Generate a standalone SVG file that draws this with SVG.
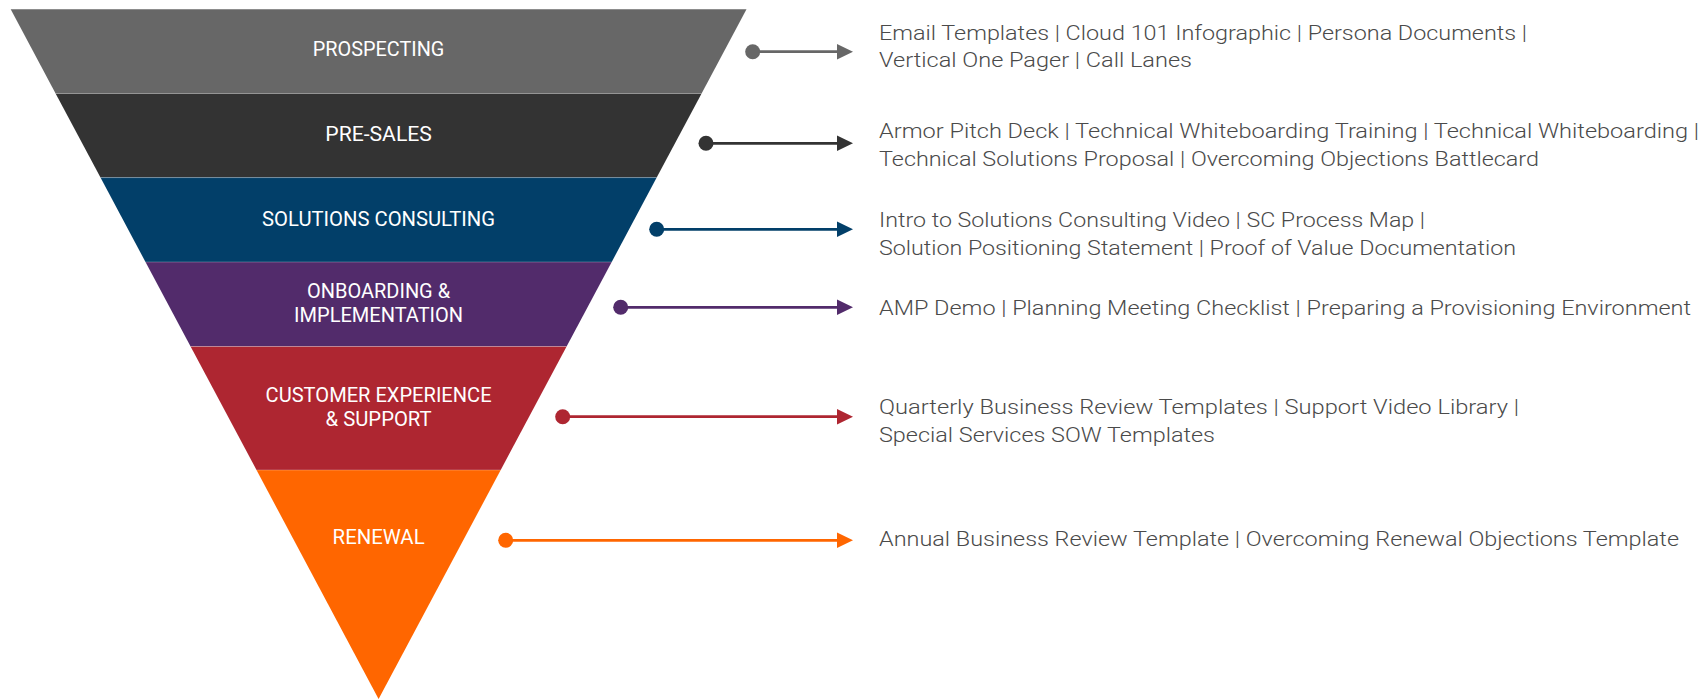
<svg xmlns="http://www.w3.org/2000/svg" xmlns:xlink="http://www.w3.org/1999/xlink" width="1704" height="700" viewBox="0 0 1704 700">
  <style>
    .band-label { font-family: Roboto, "Liberation Sans", sans-serif; font-size: 20px; font-weight: 400; fill: #ffffff; text-anchor: middle; }
    .resource { font-family: Roboto, "Liberation Sans", sans-serif; font-size: 21px; font-weight: 300; fill: #4a4a4a; }
    .seam { stroke: #ffffff; stroke-opacity: 0.25; stroke-width: 1; }
    .c-gray { fill: #676767; stroke: #676767; }
    .c-dark { fill: #333333; stroke: #333333; }
    .c-blue { fill: #023f69; stroke: #023f69; }
    .c-purple { fill: #522b6b; stroke: #522b6b; }
    .c-red { fill: #ae2631; stroke: #ae2631; }
    .c-orange { fill: #ff6600; stroke: #ff6600; }
    .link line { stroke-width: 2.8; }
    .link circle, .link use { stroke: none; }
  </style>
  <defs>
    <path id="head" d="M0,-7.7 L16,0 L0,7.7 Z"/>
  </defs>

  <rect width="1704" height="700" fill="#ffffff"/>

  <!-- funnel stages, top to bottom -->
  <g id="stage-prospecting">
    <polygon points="10.7,9.3 746.5,9.3 701.6,93.5 55.6,93.5" fill="#676767"/>
    <text class="band-label" x="378.6" y="56.3" textLength="131.5" lengthAdjust="spacingAndGlyphs">PROSPECTING</text>
  </g>
  <g id="stage-pre-sales">
    <polygon points="55.6,93.5 701.6,93.5 656.7,177.6 100.5,177.6" fill="#333333"/>
    <text class="band-label" x="378.6" y="140.5" textLength="106.6" lengthAdjust="spacingAndGlyphs">PRE-SALES</text>
  </g>
  <g id="stage-solutions-consulting">
    <polygon points="100.5,177.6 656.7,177.6 611.7,262 145.5,262" fill="#023f69"/>
    <text class="band-label" x="378.6" y="225.7" textLength="233" lengthAdjust="spacingAndGlyphs">SOLUTIONS CONSULTING</text>
  </g>
  <g id="stage-onboarding">
    <polygon points="145.5,262 611.7,262 566.6,346.5 190.6,346.5" fill="#522b6b"/>
    <text class="band-label" x="378.6" y="298.3" textLength="143" lengthAdjust="spacingAndGlyphs">ONBOARDING &amp;</text>
    <text class="band-label" x="378.6" y="321.7" textLength="169" lengthAdjust="spacingAndGlyphs">IMPLEMENTATION</text>
  </g>
  <g id="stage-customer-experience">
    <polygon points="190.6,346.5 566.6,346.5 500.7,470 256.5,470" fill="#ae2631"/>
    <text class="band-label" x="378.6" y="401.7" textLength="226" lengthAdjust="spacingAndGlyphs">CUSTOMER EXPERIENCE</text>
    <text class="band-label" x="378.6" y="425.7" textLength="106" lengthAdjust="spacingAndGlyphs">&amp; SUPPORT</text>
  </g>
  <g id="stage-renewal">
    <polygon points="256.5,470 500.7,470 378.6,699" fill="#ff6600"/>
    <text class="band-label" x="378.6" y="544.3" textLength="92" lengthAdjust="spacingAndGlyphs">RENEWAL</text>
  </g>

  <!-- faint seams between stages -->
  <g id="seams">
    <line class="seam" x1="55.6" y1="93.5" x2="701.6" y2="93.5"/>
    <line class="seam" x1="100.5" y1="177.6" x2="656.7" y2="177.6"/>
    <line class="seam" x1="145.5" y1="262" x2="611.7" y2="262"/>
    <line class="seam" x1="190.6" y1="346.5" x2="566.6" y2="346.5"/>
    <line class="seam" x1="256.5" y1="470" x2="500.7" y2="470"/>
  </g>

  <!-- connectors: dot on the funnel side, arrowhead toward the resource list -->
  <g id="connectors">
    <g class="link c-gray">
      <line x1="752.7" y1="51.7" x2="838" y2="51.7"/>
      <circle cx="752.7" cy="51.7" r="7.5"/>
      <use xlink:href="#head" x="837" y="51.7"/>
    </g>
    <g class="link c-dark">
      <line x1="706" y1="143.3" x2="838" y2="143.3"/>
      <circle cx="706" cy="143.3" r="7.5"/>
      <use xlink:href="#head" x="837" y="143.3"/>
    </g>
    <g class="link c-blue">
      <line x1="656.7" y1="229.3" x2="838" y2="229.3"/>
      <circle cx="656.7" cy="229.3" r="7.5"/>
      <use xlink:href="#head" x="837" y="229.3"/>
    </g>
    <g class="link c-purple">
      <line x1="620.7" y1="307.3" x2="838" y2="307.3"/>
      <circle cx="620.7" cy="307.3" r="7.5"/>
      <use xlink:href="#head" x="837" y="307.3"/>
    </g>
    <g class="link c-red">
      <line x1="562.7" y1="416.7" x2="838" y2="416.7"/>
      <circle cx="562.7" cy="416.7" r="7.5"/>
      <use xlink:href="#head" x="837" y="416.7"/>
    </g>
    <g class="link c-orange">
      <line x1="505.7" y1="540.3" x2="838" y2="540.3"/>
      <circle cx="505.7" cy="540.3" r="7.5"/>
      <use xlink:href="#head" x="837" y="540.3"/>
    </g>
  </g>

  <!-- resource lists per stage -->
  <g id="resources-prospecting">
    <text class="resource" x="879" y="39.5" textLength="648" lengthAdjust="spacingAndGlyphs">Email Templates | Cloud 101 Infographic | Persona Documents |</text>
    <text class="resource" x="879" y="67" textLength="313" lengthAdjust="spacingAndGlyphs">Vertical One Pager | Call Lanes</text>
  </g>
  <g id="resources-pre-sales">
    <text class="resource" x="879" y="137.7" textLength="820" lengthAdjust="spacingAndGlyphs">Armor Pitch Deck | Technical Whiteboarding Training | Technical Whiteboarding |</text>
    <text class="resource" x="879" y="166" textLength="660" lengthAdjust="spacingAndGlyphs">Technical Solutions Proposal | Overcoming Objections Battlecard</text>
  </g>
  <g id="resources-solutions-consulting">
    <text class="resource" x="879" y="226.7" textLength="546" lengthAdjust="spacingAndGlyphs">Intro to Solutions Consulting Video | SC Process Map |</text>
    <text class="resource" x="879" y="255" textLength="637" lengthAdjust="spacingAndGlyphs">Solution Positioning Statement | Proof of Value Documentation</text>
  </g>
  <g id="resources-onboarding">
    <text class="resource" x="879" y="315" textLength="812" lengthAdjust="spacingAndGlyphs">AMP Demo | Planning Meeting Checklist | Preparing a Provisioning Environment</text>
  </g>
  <g id="resources-customer-experience">
    <text class="resource" x="879" y="414.3" textLength="640" lengthAdjust="spacingAndGlyphs">Quarterly Business Review Templates | Support Video Library |</text>
    <text class="resource" x="879" y="441.7" textLength="336" lengthAdjust="spacingAndGlyphs">Special Services SOW Templates</text>
  </g>
  <g id="resources-renewal">
    <text class="resource" x="879" y="546" textLength="800" lengthAdjust="spacingAndGlyphs">Annual Business Review Template | Overcoming Renewal Objections Template</text>
  </g>
</svg>
